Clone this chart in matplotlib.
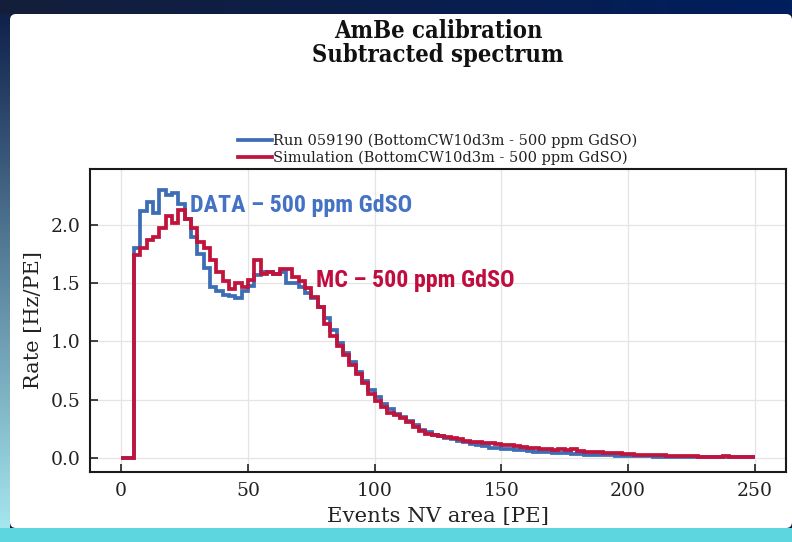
import numpy as np
import matplotlib
matplotlib.use("Agg")
import matplotlib.pyplot as plt
from matplotlib.patches import Rectangle, FancyBboxPatch

# ---------------- data (2.5 PE bins, 0..250 PE) ----------------
bin_edges = np.arange(0, 250.01, 2.5)

data_rate = [
    0.0, 0.0, 1.80, 2.12, 2.20, 2.10, 2.30, 2.26, 2.27, 2.18,
    2.05, 1.90, 1.75, 1.63, 1.47, 1.43, 1.40, 1.39, 1.37, 1.43,
    1.48, 1.57, 1.60, 1.60, 1.58, 1.60, 1.50, 1.50, 1.47, 1.42,
    1.37, 1.30, 1.20, 1.10, 0.99, 0.90, 0.82, 0.74, 0.66, 0.58,
    0.52, 0.46, 0.42, 0.38, 0.35, 0.32, 0.28, 0.24, 0.22, 0.20,
    0.19, 0.175, 0.16, 0.15, 0.135, 0.12, 0.11, 0.10, 0.09, 0.085,
    0.08, 0.075, 0.07, 0.065, 0.06, 0.055, 0.05, 0.05, 0.045, 0.04,
    0.04, 0.035, 0.035, 0.03, 0.03, 0.03, 0.025, 0.025, 0.02, 0.02,
    0.02, 0.015, 0.015, 0.015, 0.012, 0.012, 0.01, 0.01, 0.01, 0.01,
    0.008, 0.008, 0.008, 0.006, 0.006, 0.006, 0.005, 0.005, 0.005, 0.005,
]

mc_rate = [
    0.0, 0.0, 1.74, 1.80, 1.87, 1.90, 1.97, 2.08, 2.02, 2.13,
    2.05, 1.97, 1.85, 1.80, 1.70, 1.60, 1.52, 1.45, 1.50, 1.47,
    1.53, 1.70, 1.58, 1.60, 1.58, 1.62, 1.62, 1.55, 1.52, 1.46,
    1.38, 1.30, 1.15, 1.05, 0.96, 0.88, 0.80, 0.72, 0.64, 0.55,
    0.49, 0.44, 0.39, 0.37, 0.34, 0.31, 0.27, 0.23, 0.21, 0.20,
    0.19, 0.18, 0.17, 0.16, 0.15, 0.14, 0.135, 0.13, 0.125, 0.12,
    0.115, 0.11, 0.10, 0.095, 0.09, 0.085, 0.08, 0.075, 0.07, 0.075,
    0.065, 0.08, 0.06, 0.055, 0.05, 0.055, 0.045, 0.04, 0.04, 0.035,
    0.035, 0.03, 0.03, 0.025, 0.025, 0.025, 0.02, 0.02, 0.02, 0.015,
    0.015, 0.012, 0.012, 0.012, 0.01, 0.015, 0.01, 0.01, 0.012, 0.01,
]

data_label = "Run 059190 (BottomCW10d3m - 500 ppm GdSO)"
mc_label = "Simulation (BottomCW10d3m - 500 ppm GdSO)"
title_text = "AmBe calibration\nSubtracted spectrum"
xlabel_text = "Events NV area [PE]"
ylabel_text = "Rate [Hz/PE]"
data_note = "DATA – 500 ppm GdSO"
mc_note = "MC – 500 ppm GdSO"
xticks = [0, 50, 100, 150, 200, 250]
yticks = [0.0, 0.5, 1.0, 1.5, 2.0]

BLUE = "#3d6db5"
RED = "#c0143c"
NOTE_BLUE = "#4472c4"
NOTE_RED = "#c00d3e"
NOTE_FONT = ["Roboto Condensed", "Liberation Sans Narrow", "Lato", "DejaVu Sans"]

W, H = 792, 542
fig = plt.figure(figsize=(W / 100, H / 100), dpi=100)
fig.patch.set_facecolor("#0c1a36")

# ---------------- slide-like background ----------------
bg = fig.add_axes([0, 0, 1, 1], zorder=-10)
bg.set_xlim(0, W)
bg.set_ylim(H, 0)
bg.axis("off")
top = np.zeros((2, 64, 3))
c1 = np.array([0x14, 0x1e, 0x3a]) / 255
c2 = np.array([0x00, 0x1f, 0x5e]) / 255
t = np.linspace(0, 1, 64)[None, :, None]
top[:] = c1 * (1 - t) + c2 * t
bg.imshow(top, extent=[0, W, 14, 0], aspect="auto", interpolation="bilinear")
left = np.zeros((64, 2, 3))
l1 = np.array([0x10, 0x22, 0x4c]) / 255
l2 = np.array([0xa8, 0xea, 0xf2]) / 255
s = np.linspace(0, 1, 64)[:, None, None]
left[:] = l1 * (1 - s) + l2 * s
bg.imshow(left, extent=[0, 10, H, 14], aspect="auto", interpolation="bilinear")
bg.add_patch(Rectangle((0, 528), W, 14, color="#5ed6e0", lw=0))
bg.add_patch(FancyBboxPatch((10, 14), W - 10, 514,
                            boxstyle="round,pad=0,rounding_size=6",
                            fc="white", ec="none"))

# ---------------- main axes ----------------
ax = fig.add_axes([90 / W, 1 - 472 / H, (786 - 90) / W, (472 - 169) / H])
ax.set_facecolor("white")

ax.stairs(data_rate, bin_edges, baseline=None, color=BLUE, lw=2.7, label=data_label)
ax.stairs(mc_rate, bin_edges, baseline=None, color=RED, lw=2.7, label=mc_label)

ax.set_xlim(-12.3, 262.3)
ax.set_ylim(-0.12, 2.48)
ax.set_xticks(xticks)
ax.set_yticks(yticks)
ax.set_xticklabels([str(v) for v in xticks])
ax.set_yticklabels([f"{v:.1f}" for v in yticks])
ax.grid(True, color="#e4e4e4", lw=0.9)
ax.set_axisbelow(True)
ax.tick_params(direction="in", length=6, width=1.2, labelsize=13.5,
               colors="#222222", pad=7)
for lab in ax.get_xticklabels() + ax.get_yticklabels():
    lab.set_family("DejaVu Serif")
for sp in ax.spines.values():
    sp.set_linewidth(1.5)
    sp.set_color("#1a1a1a")

ax.set_xlabel(xlabel_text, family="DejaVu Serif", fontsize=15.3, color="#222222", labelpad=5)
ax.set_ylabel(ylabel_text, family="DejaVu Serif", fontsize=15, color="#222222", labelpad=5)

leg = ax.legend(loc="lower center", bbox_to_anchor=(0.5, 1.0), frameon=False,
                prop={"family": "DejaVu Serif", "size": 10.5},
                handlelength=2.3, handletextpad=0.1, labelspacing=0.15,
                borderaxespad=-0.12)
for txt in leg.get_texts():
    txt.set_color("#222222")

fig.text(438 / W, 1 - 43 / H, title_text, ha="center", va="center",
         family="DejaVu Serif", fontweight="bold", fontstretch="condensed",
         fontsize=17, linespacing=1.0, color="#111111")

ax.text(27.0, 2.17, data_note, color=NOTE_BLUE, fontsize=17.3, fontweight="bold",
        family=NOTE_FONT, fontstretch="condensed", va="center", ha="left")
ax.text(77.0, 1.52, mc_note, color=NOTE_RED, fontsize=17.3, fontweight="bold",
        family=NOTE_FONT, fontstretch="condensed", va="center", ha="left")

fig.savefig("out.png", dpi=100, facecolor=fig.get_facecolor())
